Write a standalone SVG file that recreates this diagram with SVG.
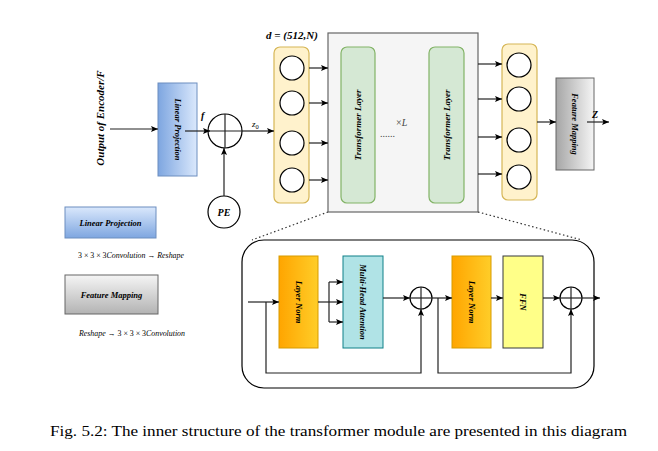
<svg xmlns="http://www.w3.org/2000/svg" width="658" height="451" viewBox="0 0 658 451">
<defs>
<style>
.ln{stroke:#222;stroke-width:1.2;fill:none}
.ar{stroke:#222;stroke-width:1.2;fill:none;marker-end:url(#ah)}
.lbl{font-family:"Liberation Serif",serif;font-weight:bold;font-style:italic;fill:#000}
.cir{fill:#fff;stroke:#000;stroke-width:1.2}
.yc{fill:#fff2cc;stroke:#d6b656;stroke-width:1.2}
.tl{fill:#d5e8d4;stroke:#82b366;stroke-width:1.2}
.dot{stroke:#333;stroke-width:1.2;stroke-dasharray:1.5 2.5;fill:none}
.sm{font-family:"Liberation Serif",serif;font-size:7.5px;fill:#000}
</style>
<marker id="ah" markerWidth="8" markerHeight="8" refX="7" refY="4" orient="auto" markerUnits="userSpaceOnUse">
<path d="M0,1 L7,4 L0,7 L1.5,4 Z" fill="#000"/>
</marker>
<linearGradient id="gBlueH" x1="0" y1="0" x2="1" y2="0"><stop offset="0" stop-color="#7ea6e0"/><stop offset="1" stop-color="#dae8fc"/></linearGradient>
<linearGradient id="gBlueV" x1="0" y1="0" x2="0" y2="1"><stop offset="0" stop-color="#dae8fc"/><stop offset="1" stop-color="#7ea6e0"/></linearGradient>
<linearGradient id="gGrayH" x1="0" y1="0" x2="1" y2="0"><stop offset="0" stop-color="#a6a6a6"/><stop offset="1" stop-color="#f5f5f5"/></linearGradient>
<linearGradient id="gGrayV" x1="0" y1="0" x2="0" y2="1"><stop offset="0" stop-color="#f5f5f5"/><stop offset="1" stop-color="#b3b3b3"/></linearGradient>
<linearGradient id="gOr" x1="0" y1="0" x2="1" y2="0"><stop offset="0" stop-color="#ffa500"/><stop offset="1" stop-color="#ffcd28"/></linearGradient>
</defs>
<rect width="658" height="451" fill="#fff"/>

<g id="input-label">
<text class="lbl" font-size="11" text-anchor="middle" transform="translate(104,118) rotate(-90)">Output of Encoder/F</text>
</g>

<g id="linear-projection">
<rect x="158" y="83" width="39" height="93" fill="url(#gBlueH)" stroke="#6c8ebf" stroke-width="1"/>
<text class="lbl" font-size="8.5" text-anchor="middle" transform="translate(174.5,129.5) rotate(90)">Linear Projection</text>
</g>

<g id="add1">
<circle class="cir" cx="225" cy="131" r="17"/>
<line class="ln" x1="208" y1="131" x2="242" y2="131"/>
<line class="ln" x1="225" y1="114" x2="225" y2="148"/>
</g>

<g id="pe">
<circle class="cir" cx="224" cy="212" r="16"/>
<text class="lbl" font-size="10" text-anchor="middle" x="224" y="216">PE</text>
</g>

<g id="embed-column">
<rect class="yc" x="274" y="47" width="35" height="156" rx="6"/>
<circle class="cir" cx="292" cy="68" r="12"/>
<circle class="cir" cx="292" cy="103" r="12"/>
<circle class="cir" cx="292" cy="143" r="12"/>
<circle class="cir" cx="292" cy="180" r="12"/>
<text class="lbl" font-size="11" text-anchor="middle" x="292" y="39">d = (512,N)</text>
</g>

<g id="transformer-block">
<rect x="328" y="33" width="150" height="179" fill="#f5f5f5" stroke="#666" stroke-width="1.2"/>
<rect class="tl" x="341" y="47" width="34" height="156" rx="6"/>
<text class="lbl" font-size="9" text-anchor="middle" transform="translate(361,125) rotate(-90)">Transformer Layer</text>
<rect class="tl" x="429" y="47" width="35" height="156" rx="6"/>
<text class="lbl" font-size="9" text-anchor="middle" transform="translate(449.5,125) rotate(-90)">Transformer Layer</text>
<text font-family="Liberation Serif,serif" font-size="10" fill="#444" x="396" y="126">×<tspan font-style="italic">L</tspan></text>
<text font-family="Liberation Serif,serif" font-size="10" fill="#444" x="380" y="137">......</text>
</g>

<g id="out-column">
<rect class="yc" x="502" y="44" width="35" height="156" rx="6"/>
<circle class="cir" cx="519" cy="65" r="12"/>
<circle class="cir" cx="519" cy="99" r="12"/>
<circle class="cir" cx="519" cy="140" r="12"/>
<circle class="cir" cx="519" cy="177" r="12"/>
</g>

<g id="feature-mapping">
<rect x="556" y="78" width="38" height="92" fill="url(#gGrayH)" stroke="#666" stroke-width="1"/>
<text class="lbl" font-size="8.5" text-anchor="middle" transform="translate(572,124) rotate(90)">Feature Mapping</text>
<text class="lbl" font-size="10" x="592" y="118">Z</text>
</g>

<g id="legend-lp">
<rect x="65" y="207" width="91" height="31" fill="url(#gBlueV)" stroke="#6c8ebf" stroke-width="1"/>
<text class="lbl" font-size="8.5" text-anchor="middle" x="110.5" y="226">Linear Projection</text>
<text class="sm" x="78" y="258" textLength="106" lengthAdjust="spacingAndGlyphs">3 × 3 × 3<tspan font-style="italic">Convolution</tspan> → <tspan font-style="italic">Reshape</tspan></text>
</g>

<g id="legend-fm">
<rect x="65" y="275" width="93" height="39" fill="url(#gGrayV)" stroke="#666" stroke-width="1"/>
<text class="lbl" font-size="8.5" text-anchor="middle" x="111.5" y="298">Feature Mapping</text>
<text class="sm" x="79" y="336" textLength="106" lengthAdjust="spacingAndGlyphs"><tspan font-style="italic">Reshape</tspan> → 3 × 3 × 3<tspan font-style="italic">Convolution</tspan></text>
</g>

<g id="detail-box">
<rect x="242" y="240" width="352" height="148" rx="22" fill="none" stroke="#000" stroke-width="1.2"/>
</g>

<g id="ln1">
<rect x="279" y="256" width="39" height="92" fill="url(#gOr)" stroke="#d79b00" stroke-width="1"/>
<text class="lbl" font-size="8.5" text-anchor="middle" transform="translate(295.5,302) rotate(90)">Layer Norm</text>
</g>
<g id="mha">
<rect x="343" y="256" width="40" height="92" fill="#b0e3e6" stroke="#0e8088" stroke-width="1"/>
<text class="lbl" font-size="8.5" text-anchor="middle" transform="translate(360,302) rotate(90)">Multi-Head Attention</text>
</g>
<g id="add2">
<circle class="cir" cx="421" cy="298" r="11"/>
<line class="ln" x1="410" y1="298" x2="432" y2="298"/>
<line class="ln" x1="421" y1="287" x2="421" y2="309"/>
</g>
<g id="ln2">
<rect x="452" y="256" width="39" height="92" fill="url(#gOr)" stroke="#d79b00" stroke-width="1"/>
<text class="lbl" font-size="8.5" text-anchor="middle" transform="translate(468.5,302) rotate(90)">Layer Norm</text>
</g>
<g id="ffn">
<rect x="503" y="256" width="40" height="92" fill="#ffff88" stroke="#36393d" stroke-width="1"/>
<text class="lbl" font-size="8.5" text-anchor="middle" transform="translate(520,302) rotate(90)">FFN</text>
</g>
<g id="add3">
<circle class="cir" cx="571" cy="298" r="11"/>
<line class="ln" x1="560" y1="298" x2="582" y2="298"/>
<line class="ln" x1="571" y1="287" x2="571" y2="309"/>
</g>

<g id="connectors">
<line class="ar" x1="110" y1="129" x2="158" y2="129"/>
<line class="ar" x1="185" y1="131" x2="210" y2="131"/>
<text class="lbl" font-size="10" x="201" y="119">f</text>
<line class="ar" x1="242" y1="131" x2="274" y2="131"/>
<text font-family="Liberation Serif,serif" font-size="9" font-style="italic" x="252" y="127">z<tspan font-size="6.5" font-style="normal" dy="2">0</tspan></text>
<line class="ar" x1="224" y1="196" x2="224" y2="148"/>
<line class="ar" x1="309" y1="68" x2="328" y2="68"/>
<line class="ar" x1="309" y1="103" x2="328" y2="103"/>
<line class="ar" x1="309" y1="143" x2="328" y2="143"/>
<line class="ar" x1="309" y1="180" x2="328" y2="180"/>
<line class="ar" x1="478" y1="64" x2="502" y2="64"/>
<line class="ar" x1="478" y1="99" x2="502" y2="99"/>
<line class="ar" x1="478" y1="137" x2="502" y2="137"/>
<line class="ar" x1="478" y1="174" x2="502" y2="174"/>
<line class="ar" x1="537" y1="122" x2="556" y2="122"/>
<line class="ar" x1="587" y1="122" x2="609" y2="122"/>
<line class="dot" x1="328" y1="212" x2="252" y2="240"/>
<line class="dot" x1="478" y1="212" x2="582" y2="240"/>
<line class="ar" x1="248" y1="302" x2="279" y2="302"/>
<line class="ln" x1="318" y1="302" x2="329" y2="302"/>
<line class="ln" x1="329" y1="282" x2="329" y2="322"/>
<line class="ar" x1="329" y1="282" x2="343" y2="282"/>
<line class="ar" x1="329" y1="302" x2="343" y2="302"/>
<line class="ar" x1="329" y1="322" x2="343" y2="322"/>
<polyline class="ar" points="266,302 266,373 421,373 421,309"/>
<line class="ar" x1="383" y1="298" x2="410" y2="298"/>
<line class="ar" x1="432" y1="298" x2="452" y2="298"/>
<polyline class="ar" points="438,298 438,373 571,373 571,309"/>
<line class="ar" x1="491" y1="298" x2="503" y2="298"/>
<line class="ar" x1="543" y1="298" x2="560" y2="298"/>
<line class="ar" x1="582" y1="298" x2="600" y2="298"/>
</g>

<text font-family="Liberation Serif,serif" font-size="14" x="50" y="436" textLength="577" lengthAdjust="spacingAndGlyphs">Fig. 5.2: The inner structure of the transformer module are presented in this diagram</text>
</svg>
